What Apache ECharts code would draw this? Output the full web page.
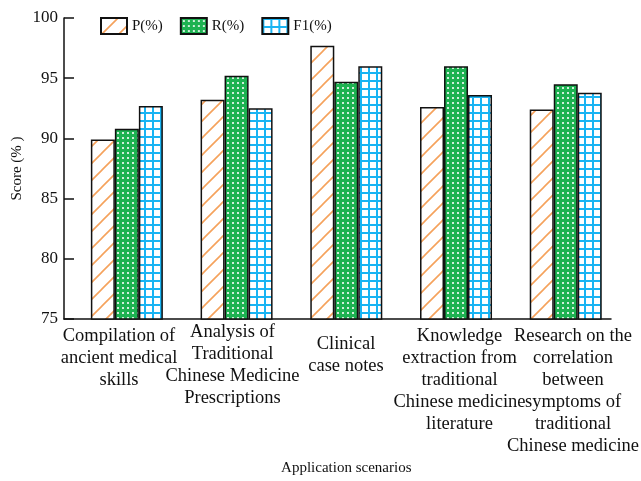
<!DOCTYPE html>
<html>
<head>
<meta charset="utf-8">
<script src="https://cdn.jsdelivr.net/npm/echarts@6/dist/echarts.min.js"></script>
<style>
html,body{margin:0;padding:0;background:#fff;}
#chart{width:641px;height:481px;}
</style>
</head>
<body>
<div id="chart"></div>
<script>
// ---- data ----
var categories = [
  'Compilation of\nancient medical\nskills',
  'Analysis of\nTraditional\nChinese Medicine\nPrescriptions',
  'Clinical\ncase notes',
  'Knowledge\nextraction from\ntraditional\nChinese medicine\nliterature',
  'Research on the\ncorrelation\nbetween\nsymptoms of\ntraditional\nChinese medicine'
];
var labelTopPad = [4, 0, 12, 4, 4];
var seriesNames = ['P(%)', 'R(%)', 'F1(%)'];
var pValues  = [89.9, 93.2, 97.7, 92.6, 92.4];
var rValues  = [90.8, 95.2, 94.7, 96.0, 94.5];
var f1Values = [92.7, 92.5, 96.0, 93.6, 93.8];
var yTicks = [75, 80, 85, 90, 95, 100];

// ---- patterns ----
function makePattern(w, h, draw) {
  var c = document.createElement('canvas');
  c.width = w; c.height = h;
  var ctx = c.getContext('2d');
  draw(ctx, w, h);
  return { image: c, repeat: 'repeat' };
}
var hatch = makePattern(17, 17, function (ctx, w, h) {
  ctx.fillStyle = '#ffffff'; ctx.fillRect(0, 0, w, h);
  ctx.strokeStyle = '#f5a25c'; ctx.lineWidth = 1.6;
  ctx.beginPath();
  ctx.moveTo(-1, h + 1); ctx.lineTo(w + 1, -1);
  ctx.moveTo(-1, 1); ctx.lineTo(1, -1);
  ctx.moveTo(w - 1, h + 1); ctx.lineTo(w + 1, h - 1);
  ctx.stroke();
});
var dots = makePattern(5, 5, function (ctx, w, h) {
  ctx.fillStyle = '#1db251'; ctx.fillRect(0, 0, w, h);
  ctx.fillStyle = 'rgba(255,255,255,0.8)'; ctx.fillRect(2, 2, 2, 2);
});
var grid = makePattern(8, 8, function (ctx, w, h) {
  ctx.fillStyle = '#ffffff'; ctx.fillRect(0, 0, w, h);
  ctx.fillStyle = '#19b4f3';
  ctx.fillRect(0, 0, w, 2);
  ctx.fillRect(0, 0, 2, h);
});
var patterns = [hatch, dots, grid];
var values = [pValues, rValues, f1Values];

var font = "'Liberation Serif', 'Times New Roman', serif";

var labelData = categories.map(function (c, i) {
  return { value: c, textStyle: { padding: [labelTopPad[i], 0, 0, 0] } };
});

var chart = echarts.init(document.getElementById('chart'), null, { renderer: 'canvas' });
chart.setOption({
  animation: false,
  backgroundColor: '#fff',
  textStyle: { fontFamily: font, color: '#111' },
  legend: {
    left: 100, top: 17, padding: 0,
    itemWidth: 26, itemHeight: 16, itemGap: 17,
    icon: 'rect',
    textStyle: { fontFamily: font, fontSize: 15, color: '#111' },
    data: seriesNames
  },
  grid: [
    { left: 72, right: 20.4, top: 18, bottom: 162, outerBoundsMode: 'none', containLabel: false },
    { left: 64, right: 30, top: 18, bottom: 162, outerBoundsMode: 'none', containLabel: false },
    { left: 62.25, right: 11.25, top: 18, bottom: 162, outerBoundsMode: 'none', containLabel: false }
  ],
  xAxis: [
    {
      type: 'category', gridIndex: 0, data: categories,
      axisLine: { show: false }, axisTick: { show: false }, axisLabel: { show: false },
      name: 'Application scenarios', nameLocation: 'middle', nameGap: 142, nameMoveOverlap: false,
      nameTextStyle: { fontFamily: font, fontSize: 15, color: '#111' }
    },
    {
      type: 'category', gridIndex: 1, data: [''],
      axisLine: { show: true, lineStyle: { color: '#111', width: 1.5 } },
      axisTick: { show: false }, axisLabel: { show: false }
    },
    {
      type: 'category', gridIndex: 2, data: labelData,
      axisLine: { show: false }, axisTick: { show: false },
      axisLabel: { fontFamily: font, fontSize: 18.5, lineHeight: 22, color: '#111', margin: 2, interval: 0, verticalAlign: 'top', hideOverlap: false }
    }
  ],
  yAxis: [
    {
      type: 'value', gridIndex: 0, min: yTicks[0], max: yTicks[yTicks.length - 1], interval: 5,
      offset: 8,
      axisLine: { show: true, lineStyle: { color: '#111', width: 1.5 } },
      axisTick: { show: true, inside: true, length: 10, lineStyle: { color: '#111', width: 1.5 } },
      axisLabel: { fontFamily: font, fontSize: 17, color: '#111', margin: 6 },
      splitLine: { show: false },
      name: 'Score (% )', nameLocation: 'middle', nameGap: 39, nameRotate: 90, nameMoveOverlap: false,
      nameTextStyle: { fontFamily: font, fontSize: 15, color: '#111' }
    },
    {
      type: 'value', gridIndex: 1, min: yTicks[0], max: yTicks[yTicks.length - 1], show: false,
      splitLine: { show: false }
    },
    {
      type: 'value', gridIndex: 2, min: yTicks[0], max: yTicks[yTicks.length - 1], show: false,
      splitLine: { show: false }
    }
  ],
  series: seriesNames.map(function (n, i) {
    return {
      name: n, type: 'bar', xAxisIndex: 0, yAxisIndex: 0,
      data: values[i], barWidth: 24, barGap: '0%',
      itemStyle: { color: patterns[i], borderColor: '#111', borderWidth: 1.5 }
    };
  })
});
</script>
</body>
</html>
